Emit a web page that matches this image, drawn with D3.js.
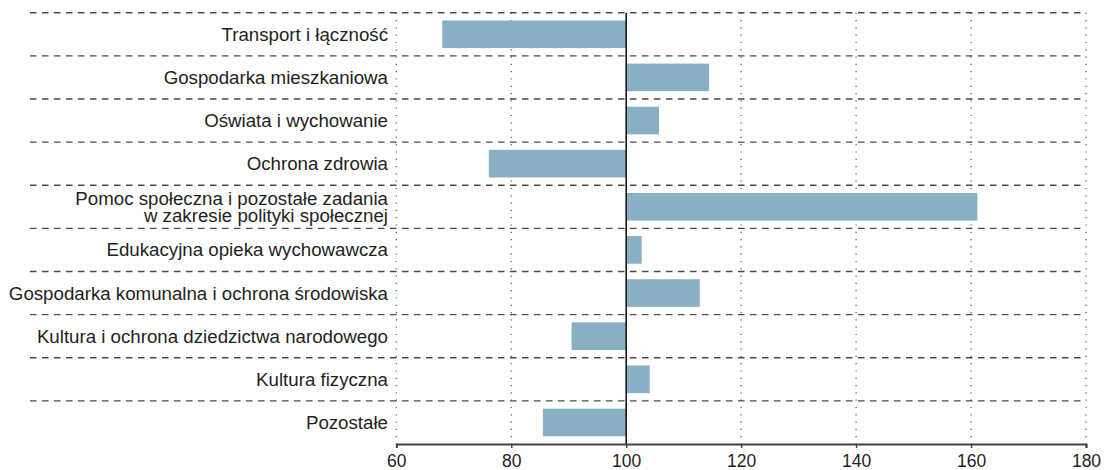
<!DOCTYPE html>
<html>
<head>
<meta charset="utf-8">
<script src="https://cdn.jsdelivr.net/npm/d3@7"></script>
<style>
  html, body { margin: 0; padding: 0; background: #fff; }
  svg { display: block; }
  text { font-family: "Liberation Sans", Arial, Helvetica, sans-serif; fill: #231f20; }
</style>
</head>
<body>
<svg id="chart" width="1105" height="470"></svg>
<script>
// Spending categories (index, previous year = 100)
const categories = [
  "Transport i łączność",
  "Gospodarka mieszkaniowa",
  "Oświata i wychowanie",
  "Ochrona zdrowia",
  "Pomoc społeczna i pozostałe zadania\nw zakresie polityki społecznej",
  "Edukacyjna opieka wychowawcza",
  "Gospodarka komunalna i ochrona środowiska",
  "Kultura i ochrona dziedzictwa narodowego",
  "Kultura fizyczna",
  "Pozostałe"
];
const values = [68.0, 114.4, 105.7, 76.1, 161.1, 102.7, 112.8, 90.5, 104.1, 85.5];
const tickValues = [60, 80, 100, 120, 140, 160, 180];
const baseline = 100;

const svg = d3.select("#chart");
const plotLeft = 396.3, plotRight = 1086, plotTop = 12.7, plotBottom = 444;

const x = d3.scaleLinear().domain([60, 180]).range([plotLeft, plotRight]);
const y = d3.scaleBand().domain(categories).range([plotTop, plotBottom])
  .paddingInner(0.36).paddingOuter(0.18);
const step = y.step();

// dotted vertical gridlines
svg.append("g").selectAll("line")
  .data(tickValues.filter(d => d !== baseline))
  .join("line")
  .attr("x1", d => x(d)).attr("x2", d => x(d))
  .attr("y1", plotTop).attr("y2", plotBottom)
  .attr("stroke", "#555").attr("stroke-width", 1.2)
  .attr("stroke-dasharray", "1.2,6.1");

// dashed row separators
svg.append("g").selectAll("line")
  .data(categories)
  .join("line")
  .attr("x1", 30).attr("x2", plotRight)
  .attr("y1", (d, i) => plotTop + i * step).attr("y2", (d, i) => plotTop + i * step)
  .attr("stroke", "#4a4a4a").attr("stroke-width", 1.4)
  .attr("stroke-dasharray", "6.5,5.5");

// bars relative to 100
svg.append("g").selectAll("rect")
  .data(categories.map((c, i) => ({ c, v: values[i] })))
  .join("rect")
  .attr("x", d => x(Math.min(d.v, baseline)))
  .attr("width", d => Math.abs(x(d.v) - x(baseline)))
  .attr("y", d => y(d.c))
  .attr("height", y.bandwidth())
  .attr("fill", "#88b0c5");

// baseline at 100
svg.append("line")
  .attr("x1", x(baseline)).attr("x2", x(baseline))
  .attr("y1", plotTop).attr("y2", plotBottom)
  .attr("stroke", "#1a1a1a").attr("stroke-width", 1.6);

// x axis
const xAxis = d3.axisBottom(x).tickValues(tickValues).tickSize(4).tickPadding(7).tickFormat(d3.format("d"));
const gx = svg.append("g").attr("transform", `translate(0,${plotBottom})`).call(xAxis);
gx.select(".domain").attr("stroke", "#444").attr("stroke-width", 2);
gx.selectAll(".tick line").attr("stroke", "#444").attr("stroke-width", 1.5);
gx.selectAll(".tick text").attr("font-size", 17.5).attr("fill", "#231f20")
  .style("font-family", "'Liberation Sans', Arial, sans-serif");

// category labels, one text per line
const lineHeight = 17.5;
const labelRows = categories.flatMap(c => {
  const lines = c.split("\n");
  return lines.map((ln, i) => ({ c, ln, off: (i - (lines.length - 1) / 2) * lineHeight }));
});
svg.append("g").selectAll("text")
  .data(labelRows)
  .join("text")
  .attr("text-anchor", "end")
  .attr("font-size", 18.7)
  .attr("x", 388)
  .attr("y", d => y(d.c) + y.bandwidth() / 2 + d.off)
  .attr("dy", "0.35em")
  .text(d => d.ln);
</script>
</body>
</html>
